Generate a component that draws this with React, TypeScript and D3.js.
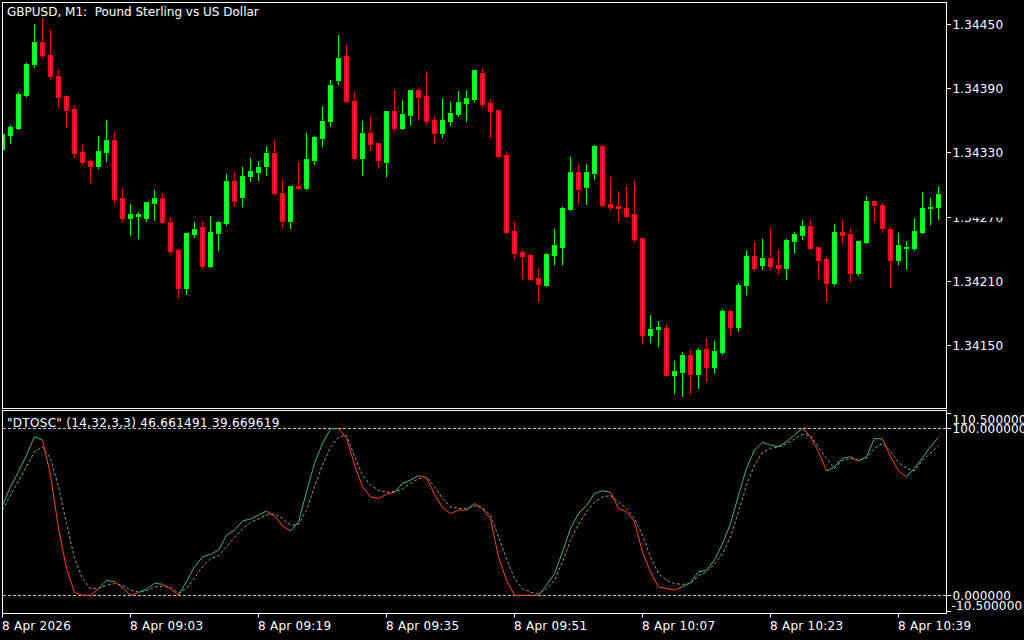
import React from "react";
import * as d3 from "d3";

// ---- data ----
const openP = [
  1.34333, 1.34346, 1.34353, 1.34384, 1.34413, 1.34433, 1.34421, 1.34401, 1.34383, 1.34371,
  1.34330, 1.34322, 1.34317, 1.34330, 1.34342, 1.34287, 1.34269, 1.34271, 1.34269, 1.34283,
  1.34287, 1.34265, 1.34239, 1.34203, 1.34254, 1.34260, 1.34224, 1.34255, 1.34264, 1.34303,
  1.34288, 1.34308, 1.34312, 1.34317, 1.34329, 1.34292, 1.34266, 1.34299, 1.34297, 1.34323,
  1.34343, 1.34359, 1.34398, 1.34420, 1.34378, 1.34325, 1.34348, 1.34339, 1.34321, 1.34369,
  1.34353, 1.34365, 1.34388, 1.34383, 1.34360, 1.34348, 1.34359, 1.34366, 1.34376, 1.34380,
  1.34404, 1.34376, 1.34370, 1.34328, 1.34257, 1.34237, 1.34234, 1.34213, 1.34206, 1.34234,
  1.34242, 1.34277, 1.34312, 1.34298, 1.34311, 1.34336, 1.34282, 1.34280, 1.34278, 1.34272,
  1.34250, 1.34159, 1.34165, 1.34166, 1.34122, 1.34125, 1.34141, 1.34123, 1.34146, 1.34129,
  1.34143, 1.34182, 1.34167, 1.34206, 1.34233, 1.34225, 1.34231, 1.34225, 1.34222, 1.34247,
  1.34253, 1.34261, 1.34242, 1.34230, 1.34208, 1.34256, 1.34254, 1.34217, 1.34246, 1.34285,
  1.34281, 1.34258, 1.34229, 1.34241, 1.34241, 1.34256, 1.34278, 1.34279,
];
const highP = [
  1.34349, 1.34356, 1.34386, 1.34414, 1.34450, 1.34456, 1.34444, 1.34407, 1.34384, 1.34373,
  1.34337, 1.34324, 1.34345, 1.34360, 1.34349, 1.34297, 1.34282, 1.34274, 1.34284, 1.34295,
  1.34292, 1.34270, 1.34240, 1.34255, 1.34265, 1.34265, 1.34271, 1.34266, 1.34310, 1.34312,
  1.34316, 1.34325, 1.34322, 1.34336, 1.34342, 1.34305, 1.34299, 1.34321, 1.34348, 1.34345,
  1.34373, 1.34398, 1.34440, 1.34430, 1.34386, 1.34359, 1.34363, 1.34339, 1.34369, 1.34388,
  1.34379, 1.34388, 1.34391, 1.34406, 1.34364, 1.34381, 1.34377, 1.34387, 1.34388, 1.34407,
  1.34408, 1.34380, 1.34370, 1.34331, 1.34265, 1.34239, 1.34235, 1.34221, 1.34236, 1.34258,
  1.34279, 1.34326, 1.34319, 1.34319, 1.34337, 1.34337, 1.34307, 1.34294, 1.34299, 1.34303,
  1.34250, 1.34178, 1.34172, 1.34169, 1.34135, 1.34143, 1.34145, 1.34147, 1.34157, 1.34154,
  1.34184, 1.34183, 1.34208, 1.34239, 1.34246, 1.34249, 1.34260, 1.34239, 1.34249, 1.34256,
  1.34267, 1.34268, 1.34242, 1.34232, 1.34263, 1.34267, 1.34258, 1.34247, 1.34289, 1.34285,
  1.34283, 1.34260, 1.34255, 1.34247, 1.34269, 1.34293, 1.34287, 1.34299,
];
const lowP = [
  1.34332, 1.34339, 1.34352, 1.34383, 1.34410, 1.34419, 1.34399, 1.34372, 1.34354, 1.34326,
  1.34319, 1.34302, 1.34315, 1.34322, 1.34282, 1.34266, 1.34253, 1.34250, 1.34266, 1.34267,
  1.34264, 1.34235, 1.34195, 1.34198, 1.34251, 1.34222, 1.34223, 1.34239, 1.34262, 1.34280,
  1.34280, 1.34303, 1.34304, 1.34309, 1.34291, 1.34260, 1.34259, 1.34296, 1.34296, 1.34319,
  1.34336, 1.34355, 1.34394, 1.34377, 1.34323, 1.34309, 1.34332, 1.34315, 1.34308, 1.34351,
  1.34352, 1.34356, 1.34361, 1.34357, 1.34339, 1.34344, 1.34356, 1.34364, 1.34359, 1.34377,
  1.34372, 1.34344, 1.34326, 1.34255, 1.34230, 1.34213, 1.34211, 1.34191, 1.34205, 1.34226,
  1.34226, 1.34276, 1.34282, 1.34282, 1.34305, 1.34280, 1.34277, 1.34266, 1.34270, 1.34247,
  1.34152, 1.34153, 1.34149, 1.34121, 1.34105, 1.34102, 1.34105, 1.34110, 1.34116, 1.34124,
  1.34142, 1.34160, 1.34163, 1.34198, 1.34220, 1.34221, 1.34221, 1.34217, 1.34212, 1.34236,
  1.34249, 1.34240, 1.34213, 1.34191, 1.34206, 1.34244, 1.34210, 1.34215, 1.34245, 1.34266,
  1.34256, 1.34204, 1.34226, 1.34221, 1.34239, 1.34255, 1.34263, 1.34268,
];
const closeP = [
  1.34347, 1.34354, 1.34385, 1.34413, 1.34433, 1.34421, 1.34401, 1.34382, 1.34370, 1.34329,
  1.34321, 1.34317, 1.34331, 1.34342, 1.34286, 1.34269, 1.34272, 1.34272, 1.34284, 1.34287,
  1.34265, 1.34238, 1.34203, 1.34255, 1.34258, 1.34224, 1.34256, 1.34265, 1.34303, 1.34285,
  1.34308, 1.34313, 1.34316, 1.34329, 1.34292, 1.34266, 1.34299, 1.34297, 1.34324, 1.34344,
  1.34359, 1.34393, 1.34418, 1.34378, 1.34325, 1.34348, 1.34338, 1.34323, 1.34369, 1.34353,
  1.34366, 1.34388, 1.34382, 1.34359, 1.34348, 1.34360, 1.34367, 1.34377, 1.34381, 1.34407,
  1.34375, 1.34369, 1.34327, 1.34256, 1.34236, 1.34233, 1.34212, 1.34207, 1.34235, 1.34243,
  1.34278, 1.34312, 1.34296, 1.34312, 1.34336, 1.34281, 1.34279, 1.34278, 1.34271, 1.34249,
  1.34159, 1.34165, 1.34167, 1.34122, 1.34126, 1.34141, 1.34123, 1.34145, 1.34129, 1.34144,
  1.34182, 1.34167, 1.34206, 1.34233, 1.34222, 1.34231, 1.34224, 1.34222, 1.34248, 1.34254,
  1.34261, 1.34241, 1.34229, 1.34208, 1.34256, 1.34253, 1.34217, 1.34247, 1.34285, 1.34281,
  1.34259, 1.34229, 1.34243, 1.34242, 1.34257, 1.34278, 1.34279, 1.34291,
];
const dtMain = [
  54, 65, 74, 84, 95, 93, 72, 40, 16, 1.8,
  0, 0, 3.8, 8.8, 8.2, 4.6, 0, 1.6, 3.8, 7.2,
  6.6, 3.8, 0, 8.2, 17, 23, 24.5, 27, 36, 39,
  44.5, 45.7, 48, 50.5, 47.5, 41.5, 38.5, 43.7, 62, 79,
  91, 99.6, 100, 94, 78, 65, 59, 58, 60.5, 61.7,
  67, 69, 71.6, 70.4, 60.5, 52.5, 49, 51, 51, 55,
  51.7, 45.7, 23, 9, 0, 0, 0, 0, 6, 13,
  26, 40, 49, 53.7, 61, 62.6, 61.7, 52, 50, 44,
  26, 14, 5, 4, 3.2, 5, 7.6, 14, 15, 21,
  31, 43, 60, 76, 87, 91.6, 90, 89, 92, 96,
  100, 95, 86, 74.4, 77, 82, 83, 80.4, 83, 94,
  93.6, 83, 74.4, 71, 76, 82.4, 89, 94.6,
];
const dtSignal = [
  51, 60, 68.4, 77, 86, 88.8, 82, 65, 43, 22,
  10, 4, 4.2, 6, 7, 6, 3, 2, 2.8, 5,
  5.4, 4.6, 1.4, 4, 10.4, 17, 22, 23.7, 29, 34.7,
  39.7, 43.7, 45.7, 48, 48.7, 46, 42, 42.5, 51, 65,
  78, 88.8, 94.6, 96, 83, 72, 66, 63, 61.6, 62.2,
  63.7, 67, 69.7, 70.8, 65, 58, 53, 52, 52, 53.7,
  52.5, 48, 35, 22, 10, 4, 1.8, 1, 3.8, 9,
  20, 33, 42.5, 50, 55.7, 59, 59.7, 56, 52, 46,
  36, 23, 13, 9, 7, 6.5, 7, 11.8, 14, 18.5,
  25, 35, 50, 66, 78, 85.6, 88, 88.8, 90.6, 93.6,
  96.4, 95.6, 88.8, 82, 76, 80.6, 82, 81, 82, 88,
  91, 86.4, 79.6, 76, 74.5, 81, 85, 89.6,
];
const priceTicks = [1.3445, 1.3439, 1.3433, 1.3427, 1.3421, 1.3415];
const levelTicks = [110.5, 100, 0, -10.5];
const levelLines = [100, 0];
const timeTickIndex = [0, 16, 32, 48, 64, 80, 96, 112];
const timeTickLabels = [
  "8 Apr 2026", "8 Apr 09:03", "8 Apr 09:19", "8 Apr 09:35",
  "8 Apr 09:51", "8 Apr 10:07", "8 Apr 10:23", "8 Apr 10:39",
];
const titleText = "GBPUSD, M1:  Pound Sterling vs US Dollar";
const indicatorText = '"DTOSC" (14,32,3,3) 46.661491 39.669619';

// ---- layout ----
const W = 1024;
const H = 640;
const L = 2.5;
const R = 946.5;
const MAIN_T = 2.5;
const MAIN_B = 408.5;
const IND_T = 410.5;
const IND_B = 613.5;
const FONT = "'DejaVu Sans', sans-serif";

const BULL_FILL = "#00ff40";
const BULL_LINE = "#00ff00";
const BEAR_FILL = "#ff0a5a";
const BEAR_LINE = "#ff0000";
const UP_COL = "#3cb371";
const DN_COL = "#ff4500";

export default function App() {
  const n = closeP.length;
  const x = d3.scaleLinear().domain([0, n - 1]).range([2.5, 2.5 + 8 * (n - 1)]);
  const y = d3.scaleLinear().domain([1.3415, 1.3445]).range([345, 24]);
  const yi = d3.scaleLinear().domain([-10.5, 110.5]).range([612.8, 410.8]);
  const px = (v: number) => Math.round(v);

  const candles = d3.range(n).map((i) => {
    const cx = x(i);
    const o = openP[i], c = closeP[i], h = highP[i], l = lowP[i];
    const bull = c >= o;
    const top = px(y(Math.max(o, c)));
    const bot = px(y(Math.min(o, c)));
    const yh = px(y(h));
    const yl = px(y(l));
    const line = bull ? BULL_LINE : BEAR_LINE;
    const fill = bull ? BULL_FILL : BEAR_FILL;
    return (
      <g key={i}>
        <line x1={cx} x2={cx} y1={yh} y2={yl + 1} stroke={line} strokeWidth={1} />
        {bot - top >= 1 ? (
          <rect x={cx - 2} y={top + 0.5} width={4} height={bot - top} fill={fill} stroke={line} strokeWidth={1} />
        ) : (
          <line x1={cx - 2.5} x2={cx + 2.5} y1={top + 0.5} y2={top + 0.5} stroke={line} strokeWidth={1} />
        )}
      </g>
    );
  });

  // coloured main line: colour of bar i by main vs signal
  const colOf = (i: number) => (dtMain[i] > dtSignal[i] ? UP_COL : DN_COL);
  const lineGen = d3
    .line<number>()
    .x((i) => x(i))
    .y((i) => yi(dtMain[i]));
  const runs: { col: string; idx: number[] }[] = [];
  for (let i = 1; i < n; i++) {
    const col = colOf(i);
    const last = runs[runs.length - 1];
    if (last && last.col === col) last.idx.push(i);
    else runs.push({ col, idx: [i - 1, i] });
  }
  const sigGen = d3
    .line<number>()
    .x((_, i) => x(i))
    .y((v) => yi(v));

  const clampLabel = (v: number) => Math.max(419, Math.min(605, yi(v)));
  const clampTick = (v: number) => Math.max(413, Math.min(611, yi(v)));

  return (
    <div style={{ position: "fixed", left: 0, top: 0, width: W, height: H, background: "#000" }}>
      <svg width={W} height={H} style={{ display: "block" }} fontFamily={FONT} fontSize={12}>
        <defs>
          <clipPath id="mainClip">
            <rect x={3} y={3} width={R - 3} height={MAIN_B - 3} />
          </clipPath>
          <clipPath id="indClip">
            <rect x={3} y={IND_T + 0.5} width={R - 3} height={IND_B - IND_T - 1} />
          </clipPath>
        </defs>
        <rect x={0} y={0} width={W} height={H} fill="#000" />

        {/* main panel */}
        <g clipPath="url(#mainClip)">{candles}</g>
        <rect x={L} y={MAIN_T} width={R - L} height={MAIN_B - MAIN_T} fill="none" stroke="#fff" strokeWidth={1} />
        <text x={7} y={16} fill="#fff" style={{ whiteSpace: "pre" }}>{titleText}</text>

        {priceTicks.map((p) => {
          const yy = px(y(p)) + 0.5;
          return (
            <g key={p}>
              <line x1={R} x2={R + 4.5} y1={yy} y2={yy} stroke="#fff" strokeWidth={1} />
              <text x={952.5} y={yy + 4.5} fill="#fff" letterSpacing={0.15}>{p.toFixed(5)}</text>
            </g>
          );
        })}
        {/* label partly hidden as in the reference */}
        <rect x={951} y={206} width={73} height={11.5} fill="#000" />

        {/* indicator panel */}
        <rect x={L} y={IND_T} width={R - L} height={IND_B - IND_T} fill="none" stroke="#fff" strokeWidth={1} />
        <g clipPath="url(#indClip)">
          {levelLines.map((v) => {
            const yy = px(yi(v)) + 0.5;
            return <line key={v} x1={3} x2={R} y1={yy} y2={yy} stroke="#c0c0c0" strokeDasharray="3,2" strokeWidth={1} />;
          })}
          <path d={sigGen(dtSignal) || ""} fill="none" stroke="#909090" strokeWidth={1} strokeDasharray="3,2" />
          {runs.map((r, k) => (
            <path key={k} d={lineGen(r.idx) || ""} fill="none" stroke={r.col} strokeWidth={1} />
          ))}
        </g>
        <text x={7} y={427} fill="#fff" letterSpacing={0.3}>{indicatorText}</text>
        {levelTicks.map((v) => {
          const ty = Math.round(clampTick(v)) + 0.5;
          const ly = clampLabel(v);
          return (
            <g key={v}>
              <line x1={R} x2={R + 4.5} y1={ty} y2={ty} stroke="#fff" strokeWidth={1} />
              <text x={v < 0 ? 951.5 : 952.5} y={ly + 4.5} fill="#fff" letterSpacing={0.15}>{v.toFixed(6)}</text>
            </g>
          );
        })}

        {/* time axis */}
        {timeTickIndex.map((ti, k) => {
          const xx = x(ti);
          return (
            <g key={ti}>
              <line x1={xx} x2={xx} y1={IND_B} y2={IND_B + 4} stroke="#fff" strokeWidth={1} />
              <text x={xx - 0.5} y={630} fill="#fff" letterSpacing={0.25}>{timeTickLabels[k]}</text>
            </g>
          );
        })}
      </svg>
    </div>
  );
}
